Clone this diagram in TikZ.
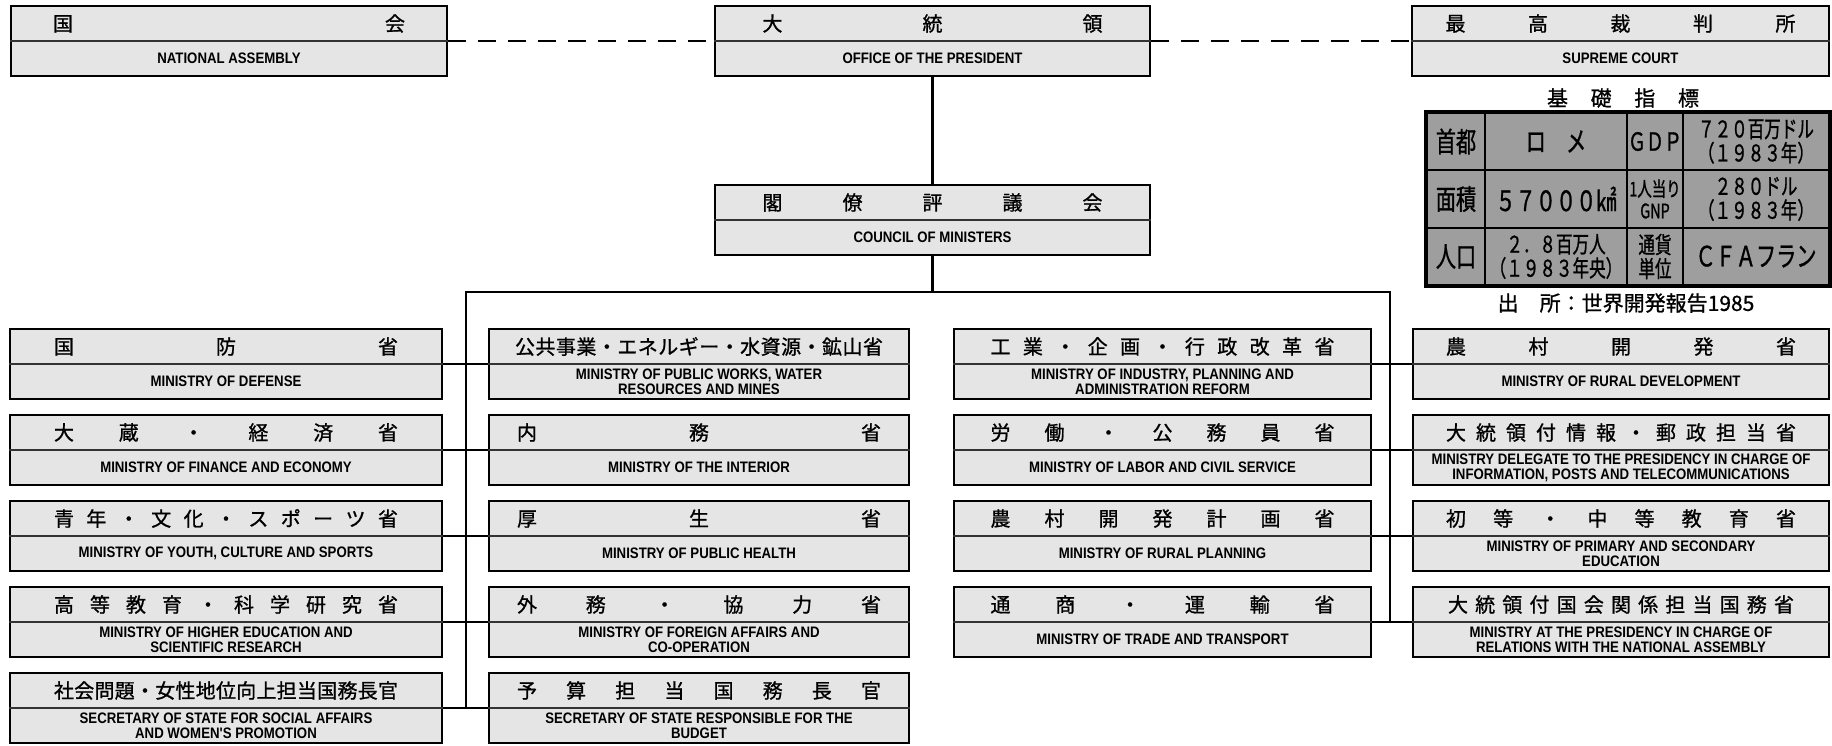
\documentclass[tikz,border=0pt]{standalone}
\usepackage{fontspec}
\usetikzlibrary{calc}
\newfontfamily\jp[FakeBold=1]{Noto Sans CJK JP}
\newfontfamily\jpt[FakeStretch=0.72,FakeBold=1]{Noto Sans CJK JP}
\newfontfamily\en[FakeStretch=0.87]{Liberation Sans}
\makeatletter
\def\sprd#1{\sprd@i#1\relax}
\def\sprd@i#1#2{#1\ifx\relax#2\else\hfill\expandafter\sprd@i\expandafter#2\fi}
\makeatother
\tikzset{
  box/.style={draw=black, line width=0.8pt, fill=black!10, inner sep=0pt, minimum height=35pt},
  ttl/.style={inner sep=0pt, font=\jp\fontsize{10}{12}\selectfont},
  eng/.style={inner sep=0pt, align=center, font=\en\bfseries\fontsize{7.6}{7.5}\selectfont},
  divline/.style={line width=0.6pt, draw=black!80},
  conn/.style={line width=1.3pt},
  dashconn/.style={line width=0.9pt, dash pattern=on 9pt off 6pt},
  cell/.style={draw=black, line width=1pt, fill=black!38, inner sep=0pt, align=center,
    font=\jpt\fontsize{11.5}{12}\selectfont},
  bigcell/.style={cell, font=\jpt\fontsize{14}{14}\selectfont},
  plain/.style={inner sep=0pt, font=\jp\fontsize{10.5}{12}\selectfont},
}
% name, x, y, width, title spread width, title, english
\newcommand\orgbox[7]{%
  \node[box, minimum width=#4] (#1) at (#2,#3) {};
  \draw[divline] (#1.west) -- (#1.east);
  \node[ttl] (#1t) at ($(#1.center)+(0,-17.5)$) {\makebox[#5][s]{\sprd{#6}}};
  \node[eng] (#1e) at ($(#1.center)+(0,17.5)$) {#7};
}
\begin{document}
\begin{tikzpicture}[x=0.5pt,y=-0.5pt]
\useasboundingbox (0,0) rectangle (1832,745);
\fill[white] (0,0) rectangle (1832,745);

% top row
\orgbox{asm}{229}{41}{218pt}{176pt}{国会}{NATIONAL ASSEMBLY}
\orgbox{pres}{932.5}{41}{217.5pt}{170pt}{大統領}{OFFICE OF THE PRESIDENT}
\orgbox{court}{1620.5}{41}{208.5pt}{175pt}{最高裁判所}{SUPREME COURT}
\orgbox{coun}{932.5}{220}{217.5pt}{170pt}{閣僚評議会}{COUNCIL OF MINISTERS}

% column A
\orgbox{a1}{226}{364}{216pt}{172pt}{国防省}{MINISTRY OF DEFENSE}
\orgbox{a2}{226}{450}{216pt}{172pt}{大蔵・経済省}{MINISTRY OF FINANCE AND ECONOMY}
\orgbox{a3}{226}{536}{216pt}{172pt}{青年・文化・スポーツ省}{MINISTRY OF YOUTH, CULTURE AND SPORTS}
\orgbox{a4}{226}{622}{216pt}{172pt}{高等教育・科学研究省}{MINISTRY OF HIGHER EDUCATION AND\\SCIENTIFIC RESEARCH}
\orgbox{a5}{226}{708}{216pt}{172pt}{社会問題・女性地位向上担当国務長官}{SECRETARY OF STATE FOR SOCIAL AFFAIRS\\AND WOMEN'S PROMOTION}

% column B
\orgbox{b1}{699}{364}{210pt}{184pt}{公共事業・エネルギー・水資源・鉱山省}{MINISTRY OF PUBLIC WORKS, WATER\\RESOURCES AND MINES}
\orgbox{b2}{699}{450}{210pt}{182pt}{内務省}{MINISTRY OF THE INTERIOR}
\orgbox{b3}{699}{536}{210pt}{182pt}{厚生省}{MINISTRY OF PUBLIC HEALTH}
\orgbox{b4}{699}{622}{210pt}{182pt}{外務・協力省}{MINISTRY OF FOREIGN AFFAIRS AND\\CO-OPERATION}
\orgbox{b5}{699}{708}{210pt}{182pt}{予算担当国務長官}{SECRETARY OF STATE RESPONSIBLE FOR THE\\BUDGET}

% column C
\orgbox{c1}{1162.5}{364}{208.5pt}{172pt}{工業・企画・行政改革省}{MINISTRY OF INDUSTRY, PLANNING AND\\ADMINISTRATION REFORM}
\orgbox{c2}{1162.5}{450}{208.5pt}{172pt}{労働・公務員省}{MINISTRY OF LABOR AND CIVIL SERVICE}
\orgbox{c3}{1162.5}{536}{208.5pt}{172pt}{農村開発計画省}{MINISTRY OF RURAL PLANNING}
\orgbox{c4}{1162.5}{622}{208.5pt}{172pt}{通商・運輸省}{MINISTRY OF TRADE AND TRANSPORT}

% column D
\orgbox{d1}{1621}{364}{208pt}{175pt}{農村開発省}{MINISTRY OF RURAL DEVELOPMENT}
\orgbox{d2}{1621}{450}{208pt}{175pt}{大統領付情報・郵政担当省}{MINISTRY DELEGATE TO THE PRESIDENCY IN CHARGE OF\\INFORMATION, POSTS AND TELECOMMUNICATIONS}
\orgbox{d3}{1621}{536}{208pt}{175pt}{初等・中等教育省}{MINISTRY OF PRIMARY AND SECONDARY\\EDUCATION}
\orgbox{d4}{1621}{622}{208pt}{173pt}{大統領付国会関係担当国務省}{MINISTRY AT THE PRESIDENCY IN CHARGE OF\\RELATIONS WITH THE NATIONAL ASSEMBLY}

% connectors
\coordinate (busL) at (466,292);
\coordinate (busR) at (1390,292);
\draw[dashconn] (asm.east) -- (pres.west);
\draw[dashconn] (pres.east) -- (court.west);
\draw[conn] (pres.south) -- (coun.north);
\draw[conn] (coun.south) -- (coun.south |- busL);
\draw[conn] (a5.east -| busL) -- (busL) -- (busR) -- (c4.east -| busR);
\foreach \i in {1,...,5} { \draw[conn] (a\i.east) -- (b\i.west); }
\foreach \i in {1,...,4} { \draw[conn] (c\i.east) -- (d\i.west); }

% basic indicators table
\node[plain] (ttitle) at (1623,98) {\makebox[76pt][s]{\sprd{基礎指標}}};
\node[bigcell, minimum width=29pt, minimum height=28.5pt] (t11) at (1456,141.5) {首都};
\node[bigcell, minimum width=71pt, minimum height=28.5pt] (t12) at (1556,141.5) {ロ　メ};
\node[cell, minimum width=28pt, minimum height=28.5pt, font=\jpt\fontsize{12.5}{12}\selectfont] (t13) at (1655,141.5) {ＧＤＰ};
\node[cell, minimum width=73pt, minimum height=28.5pt] (t14) at (1756,141.5) {７２０百万ドル\\（１９８３年）};
\node[bigcell, minimum width=29pt, minimum height=29pt] (t21) at (1456,199) {面積};
\node[bigcell, minimum width=71pt, minimum height=29pt] (t22) at (1556,199) {５７０００㎢};
\node[cell, minimum width=28pt, minimum height=29pt, font=\jpt\fontsize{10}{11}\selectfont] (t23) at (1655,199) {1人当り\\GNP};
\node[cell, minimum width=73pt, minimum height=29pt] (t24) at (1756,199) {２８０ドル\\（１９８３年）};
\node[bigcell, minimum width=29pt, minimum height=28.5pt] (t31) at (1456,256.5) {人口};
\node[cell, minimum width=71pt, minimum height=28.5pt] (t32) at (1556,256.5) {２．８百万人\\（１９８３年央）};
\node[cell, minimum width=28pt, minimum height=28.5pt] (t33) at (1655,256.5) {通貨\\単位};
\node[bigcell, minimum width=73pt, minimum height=28.5pt] (t34) at (1756,256.5) {ＣＦＡフラン};
\draw[line width=1.6pt] (t11.north west) rectangle (t34.south east);
\node[plain] (tsrc) at (1626,303) {出　所：世界開発報告1985};
\end{tikzpicture}
\end{document}
